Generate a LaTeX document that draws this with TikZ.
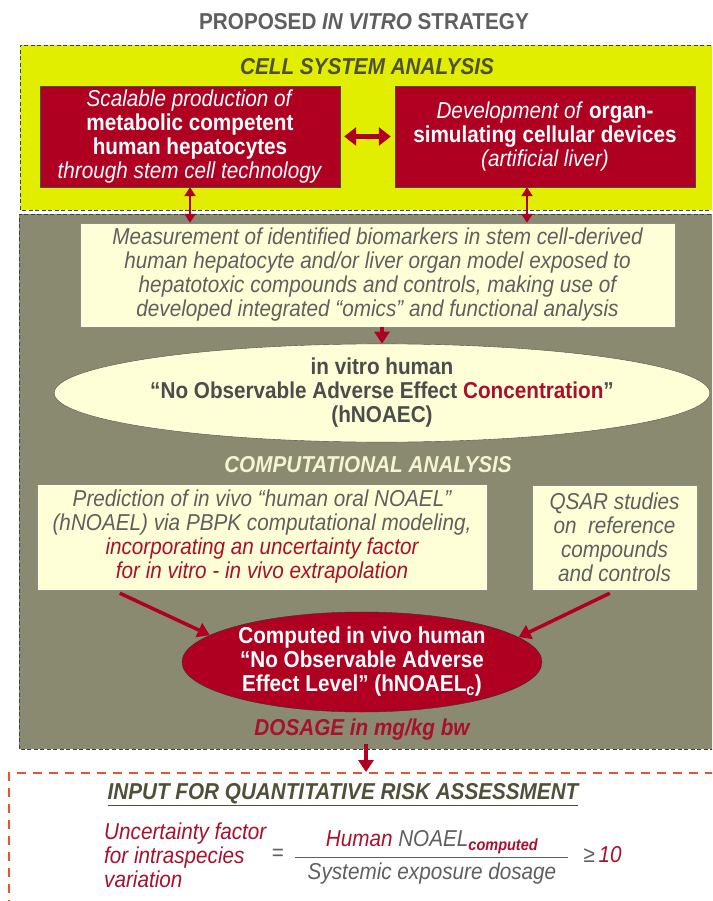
\documentclass[tikz,border=0pt]{standalone}
\usepackage{fontspec}
\setmainfont[FakeStretch=0.9]{Liberation Sans}
\usetikzlibrary{arrows.meta,shapes.geometric}
\definecolor{ylw}{RGB}{226,238,0}
\definecolor{olv}{RGB}{138,138,112}
\definecolor{crm}{RGB}{255,255,215}
\definecolor{dred}{RGB}{176,0,34}
\definecolor{rtxt}{RGB}{168,16,46}
\definecolor{gtxt}{RGB}{95,95,95}
\definecolor{ohead}{RGB}{80,80,58}
\definecolor{chead}{RGB}{245,245,212}
\definecolor{dashred}{RGB}{226,84,52}
\newcommand{\basefont}{\fontsize{23}{24}\selectfont}
\begin{document}
\begin{tikzpicture}[x=1pt,y=-1pt,font=\basefont,
	redbox/.style={draw=black!70,fill=dred,text=white,align=center,inner sep=0pt,minimum width=300pt,minimum height=101pt},
	crmbox/.style={draw=black!45,fill=crm,text=gtxt,align=center,inner sep=0pt,font=\basefont\itshape},
	arr/.style={draw=dred,line width=3.5pt,-{Triangle[width=15pt,length=12pt]}},
	dbl/.style={draw=dred,line width=2.5pt,{Triangle[width=11pt,length=9pt]}-{Triangle[width=11pt,length=9pt]}},
	bigdbl/.style={draw=dred,line width=5pt,{Triangle[width=18pt,length=12pt]}-{Triangle[width=18pt,length=12pt]}}]
	\useasboundingbox (0,0) rectangle (712,901);
	\clip (0,0) rectangle (712,901);
	% panels
	\fill[ylw] (20,45) rectangle (730,210);
	\draw[black!75,line width=0.8pt,dash pattern=on 4pt off 2.5pt] (730,45) -- (20,45) -- (20,210) -- (730,210);
	\fill[olv] (19,214) rectangle (730,749);
	\draw[black!75,line width=0.8pt,dash pattern=on 4pt off 2.5pt] (730,214) -- (19,214) -- (19,749) -- (730,749);
	\draw[dashred,line width=2pt,dash pattern=on 9pt off 7pt] (730,773) -- (9,773) -- (9,920);
	% cell system analysis
	\node[text=gtxt,font=\basefont\bfseries] (title) at (364,22) {PROPOSED \textit{IN VITRO} STRATEGY};
	\node[text=ohead,font=\basefont\bfseries\itshape] (cellhead) at (367,67) {CELL SYSTEM ANALYSIS};
	\node[redbox] (prod) at (190,136.5) {\textit{Scalable production of}\\ \textbf{metabolic competent}\\ \textbf{human hepatocytes}\\ \textit{through stem cell technology}};
	\node[redbox] (organ) at (545,136.5) {\textit{Development of} \textbf{organ-}\\ \textbf{simulating cellular devices}\\ \textit{(artificial liver)}};
	\node[crmbox,minimum width=595pt,minimum height=104pt] (meas) at (377.5,275) {Measurement of identified biomarkers in stem cell-derived\\ human hepatocyte and/or liver organ model exposed to\\ hepatotoxic compounds and controls, making use of\\ developed integrated “omics” and functional analysis};
	\node[ellipse,draw=black!70,fill=crm,text=black!70,inner sep=0pt,minimum width=550pt,minimum height=88pt,align=center,font=\basefont\bfseries] (hnoaec) at (382,393) {in vitro human\\ “No Observable Adverse Effect \textcolor{rtxt}{Concentration}”\\ (hNOAEC)};
	% computational analysis
	\node[text=chead,font=\basefont\bfseries\itshape] (comphead) at (368,465) {COMPUTATIONAL ANALYSIS};
	\node[crmbox,minimum width=450pt,minimum height=106pt] (pbpk) at (262,537) {Prediction of in vivo “human oral NOAEL”\\ (hNOAEL) via PBPK computational modeling,\\ \textcolor{rtxt}{incorporating an uncertainty factor}\\ \textcolor{rtxt}{for in vitro - in vivo extrapolation}};
	\node[crmbox,minimum width=165pt,minimum height=105pt] (qsar) at (614.5,537.5) {QSAR studies\\ on~ reference\\ compounds\\ and controls};
	\node[ellipse,draw=black!80,fill=dred,text=white,inner sep=0pt,minimum width=360pt,minimum height=100pt,align=center,font=\basefont\bfseries] (comp) at (362,662) {Computed in vivo human\\ “No Observable Adverse\\ Effect Level” (hNOAEL\textsubscript{c})};
	\node[text=rtxt,font=\basefont\bfseries\itshape] (dosage) at (362,730) {DOSAGE in mg/kg bw};
	% risk assessment
	\node[text=ohead,font=\basefont\bfseries\itshape] (inhead) at (343,795) {\underline{INPUT FOR QUANTITATIVE RISK ASSESSMENT}};
	\node[anchor=west,text=rtxt,align=left,inner sep=0pt,font=\basefont\itshape] (uf) at (104,855) {Uncertainty factor\\ for intraspecies\\ variation};
	\node[text=gtxt] (eq) at (278,855) {=};
	\node[text=gtxt,font=\basefont\itshape] (num) at (432,842) {\textcolor{rtxt}{Human} NOAEL\textsubscript{\textbf{\textcolor{rtxt}{computed}}}};
	\node[text=gtxt,font=\basefont\itshape] (den) at (432,874) {Systemic exposure dosage};
	\draw[gtxt,line width=1pt] (295,857) -- (568,857);
	\node[anchor=west,font=\basefont\itshape] (ge) at (580,855) {\textcolor{gtxt}{≥}\,\textcolor{rtxt}{10}};
	% arrows
	\draw[bigdbl] ([xshift=4pt]prod.east) -- ([xshift=-4pt]organ.west);
	\draw[dbl] (prod.south) -- (prod.south |- meas.north);
	\coordinate (oarr) at ([xshift=-18pt]organ.south);
	\draw[dbl] (oarr) -- (oarr |- meas.north);
	\draw[arr] (meas.south -| hnoaec.north) -- (hnoaec.north);
	\coordinate (pstart) at ([xshift=83pt,yshift=-3pt]pbpk.south west);
	\coordinate (qstart) at ([xshift=78pt,yshift=-3pt]qsar.south west);
	\draw[arr] (pstart) -- (comp.170);
	\draw[arr] (qstart) -- (comp.9);
	\coordinate (intop) at (366,772);
	\draw[arr] (dosage.south -| intop) -- (intop);
\end{tikzpicture}
\end{document}
